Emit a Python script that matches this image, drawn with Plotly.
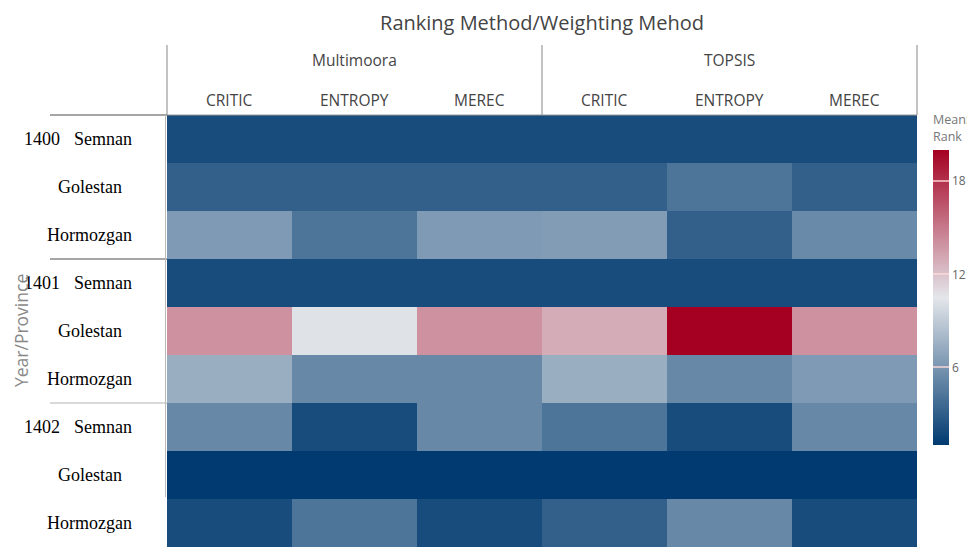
import plotly.graph_objects as go

methods = ["Multimoora", "Multimoora", "Multimoora", "TOPSIS", "TOPSIS", "TOPSIS"]
weights = ["CRITIC", "ENTROPY", "MEREC", "CRITIC", "ENTROPY", "MEREC"]
years = ["1400", "1400", "1400", "1401", "1401", "1401", "1402", "1402", "1402"]
provinces = ["Semnan", "Golestan", "Hormozgan"] * 3

# Mean rank values (rows: year/province, cols: method/weighting)
r1400_semnan = [2, 2, 2, 2, 2, 2]
r1400_golestan = [3.1, 3.1, 3.1, 3.1, 4.2, 3.1]
r1400_hormozgan = [6.3, 4.2, 6.3, 6.4, 3.1, 5.4]
r1401_semnan = [2, 2, 2, 2, 2, 2]
r1401_golestan = [14.0, 10.3, 14.0, 12.9, 20, 14.0]
r1401_hormozgan = [7.4, 5.3, 5.3, 7.4, 5.3, 6.3]
r1402_semnan = [5.3, 2, 5.3, 4.2, 2, 5.3]
r1402_golestan = [1, 1, 1, 1, 1, 1]
r1402_hormozgan = [2, 4.2, 2, 3.1, 5.3, 2]

z = [r1400_semnan, r1400_golestan, r1400_hormozgan,
     r1401_semnan, r1401_golestan, r1401_hormozgan,
     r1402_semnan, r1402_golestan, r1402_hormozgan]

xcats = [m + "|" + w for m, w in zip(methods, weights)]
ycats = [y + "|" + p for y, p in zip(years, provinces)]

colorscale = [[0.0, "#003a70"], [0.5, "#e4e6ea"], [1.0, "#a50021"]]

# page body has an 8px margin; figure coordinates are screen - 8
OFF = 8
L, T, PW, PH = 167 - OFF, 115 - OFF, 750, 432


def px(sx):
    return (sx - OFF - L) / PW


def py(sy):
    return 1 - (sy - OFF - T) / PH


fig = go.Figure(go.Heatmap(
    z=z, x=xcats, y=ycats, zmin=1, zmax=20,
    colorscale=colorscale, xgap=0, ygap=0,
    colorbar=dict(
        thickness=16, lenmode="pixels", len=333,
        x=px(933), xanchor="left", y=py(445), yanchor="bottom",
        xpad=0, ypad=0, outlinewidth=0,
        tickvals=[6, 12, 18], ticks="inside", ticklen=16,
        tickcolor="rgba(255,220,220,0.7)", tickwidth=2,
        tickprefix="\u00a0\u00a0",
        tickfont=dict(family="Open Sans", size=12, color="#666"),
        title=dict(text="Mean:<br>Rank", side="top",
                   font=dict(family="Open Sans", size=12.5, color="#777")),
    ),
))

ann = []
HF = dict(family="Open Sans", size=15.5, color="#444")
# sub-headers
for xc, w in zip(xcats, weights):
    ann.append(dict(x=xc, xref="x", y=py(100), yref="paper", text=w, showarrow=False,
                    font=HF, yanchor="middle", xanchor="center"))
# group headers
seen = []
for i, m in enumerate(methods):
    if m in seen:
        continue
    seen.append(m)
    idx = [k for k, mm in enumerate(methods) if mm == m]
    mid = xcats[idx[len(idx) // 2]]
    ann.append(dict(x=mid, xref="x", y=py(60), yref="paper", text=m, showarrow=False,
                    font=HF, yanchor="middle", xanchor="center"))
# row labels
RF = dict(family="Liberation Serif", size=18, color="#000")
prov_center = {"Semnan": 103, "Golestan": 90, "Hormozgan": 89}
for i, (yr, pv) in enumerate(zip(years, provinces)):
    ann.append(dict(x=px(prov_center[pv]), xref="paper", y=ycats[i], yref="y",
                    text=pv, showarrow=False, xanchor="center", font=RF))
    if i == 0 or years[i - 1] != yr:
        ann.append(dict(x=px(42), xref="paper", y=ycats[i], yref="y",
                        text=yr, showarrow=False, xanchor="center", font=RF))
# y axis title
ann.append(dict(x=px(21), xref="paper", y=py(331), yref="paper",
                text="Year/Province", textangle=-90, showarrow=False,
                xanchor="center", yanchor="middle",
                font=dict(family="Open Sans", size=17.5, color="#888")))

shapes = []
LC = "#9a9a9a"
for sx in [167, 542, 917]:
    shapes.append(dict(type="line", xref="paper", yref="paper", x0=px(sx), x1=px(sx),
                       y0=py(115), y1=py(45), line=dict(color=LC, width=1.2)))
shapes.append(dict(type="line", xref="paper", yref="paper", x0=0, x1=1,
                   y0=1.0, y1=1.0, line=dict(color=LC, width=1.2)))
for yp, col in [(1.0, "#888"), (2 / 3, "#888"), (1 / 3, "#ccc")]:
    shapes.append(dict(type="line", xref="paper", yref="paper", x0=px(50), x1=0,
                       y0=yp, y1=yp, line=dict(color=col, width=1.5)))
shapes.append(dict(type="line", xref="paper", yref="paper", x0=-0.002, x1=-0.002,
                   y0=1.0, y1=py(497), line=dict(color="#bbb", width=1)))

fig.update_layout(
    width=975 - OFF, height=547 - OFF,
    margin=dict(l=L, r=975 - OFF - L - PW, t=T, b=547 - OFF - T - PH, autoexpand=False),
    paper_bgcolor="white", plot_bgcolor="white",
    title=dict(text="Ranking Method/Weighting Mehod", x=0.5, xref="paper",
               y=1 - (23 - OFF) / (547 - OFF), yref="container",
               yanchor="middle", xanchor="center",
               font=dict(family="Open Sans", size=20, color="#444")),
    xaxis=dict(showticklabels=False, showgrid=False, zeroline=False, ticks=""),
    yaxis=dict(showticklabels=False, showgrid=False, zeroline=False, ticks="",
               autorange="reversed"),
    annotations=ann, shapes=shapes,
)

fig.write_html("out.html")
